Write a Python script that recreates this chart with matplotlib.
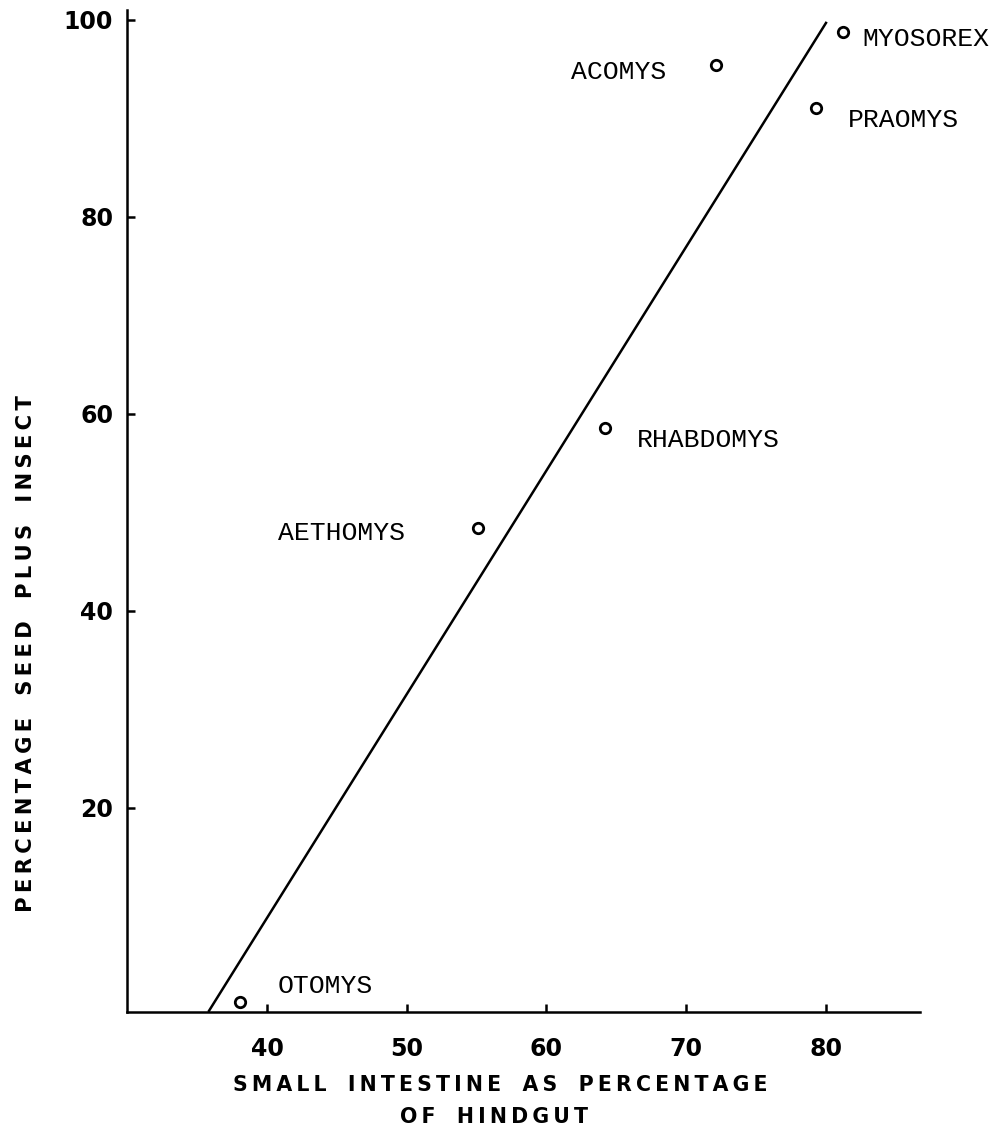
import matplotlib.pyplot as plt

# species means: small intestine (% of hindgut) vs seed + insect in diet (%)
genera = ["OTOMYS", "AETHOMYS", "RHABDOMYS", "ACOMYS", "PRAOMYS", "MYOSOREX"]
intestine_pct = [38.1, 55.1, 64.2, 72.1, 79.3, 81.2]
seed_insect_pct = [0.3, 48.4, 58.6, 95.4, 91.1, 98.8]

# fitted line end points
fit_x = [35.8, 80.05]
fit_y = [-0.7, 99.8]

x_ticks = [40, 50, 60, 70, 80]
y_ticks = [20, 40, 60, 80, 100]

# label offsets in pixels and alignment for each genus
label_pos = {
    "OTOMYS":    (37, 16, "left"),
    "AETHOMYS":  (-73, -5, "right"),
    "RHABDOMYS": (32, -12, "left"),
    "ACOMYS":    (-49, -7, "right"),
    "PRAOMYS":   (32, -12, "left"),
    "MYOSOREX":  (20, -7, "left"),
}

def spaced(text, gap="\u2009"):
    # wide letter spacing for the axis captions
    return "   ".join(gap.join(word) for word in text.split())

fig = plt.figure(figsize=(10, 11.39), dpi=100)
ax = fig.add_axes([0.127, 0.1115, 0.793, 0.8797])

ax.plot(fit_x, fit_y, color="black", linewidth=1.8, solid_capstyle="butt")
ax.plot(intestine_pct, seed_insect_pct, linestyle="none", marker="o",
        markersize=7.5, markerfacecolor="white", markeredgecolor="black",
        markeredgewidth=2.0)

for name, x, y in zip(genera, intestine_pct, seed_insect_pct):
    dx, dy, ha = label_pos[name]
    ax.annotate(name, (x, y), xytext=(dx, dy), textcoords="offset pixels",
                ha=ha, va="center", fontsize=19, family="Liberation Mono")

ax.set_xlim(29.98, 86.73)
ax.set_ylim(-0.71, 101.0)
ax.set_xticks(x_ticks)
ax.set_yticks(y_ticks)
for s in ["top", "right"]:
    ax.spines[s].set_visible(False)
for s in ["left", "bottom"]:
    ax.spines[s].set_linewidth(1.8)

ax.tick_params(direction="in", length=6, width=1.8)
ax.tick_params(axis="x", pad=18)
ax.tick_params(axis="y", pad=10)
for lab in ax.get_xticklabels() + ax.get_yticklabels():
    lab.set_fontsize(17)
    lab.set_fontweight("bold")
    lab.set_family("DejaVu Sans")

fig.text(0.5, 1 - 1085 / 1139, spaced("SMALL INTESTINE AS PERCENTAGE"),
         ha="center", va="center", fontsize=14.8, fontweight="bold",
         family="DejaVu Sans")
fig.text(0.494, 1 - 1117 / 1139, spaced("OF HINDGUT"),
         ha="center", va="center", fontsize=14.8, fontweight="bold",
         family="DejaVu Sans")
fig.text(0.026, 1 - 654 / 1139, spaced("PERCENTAGE SEED PLUS INSECT"),
         ha="center", va="center", rotation=90, fontsize=15.2,
         fontweight="bold", family="DejaVu Sans")

fig.savefig("out.png", dpi=100)
